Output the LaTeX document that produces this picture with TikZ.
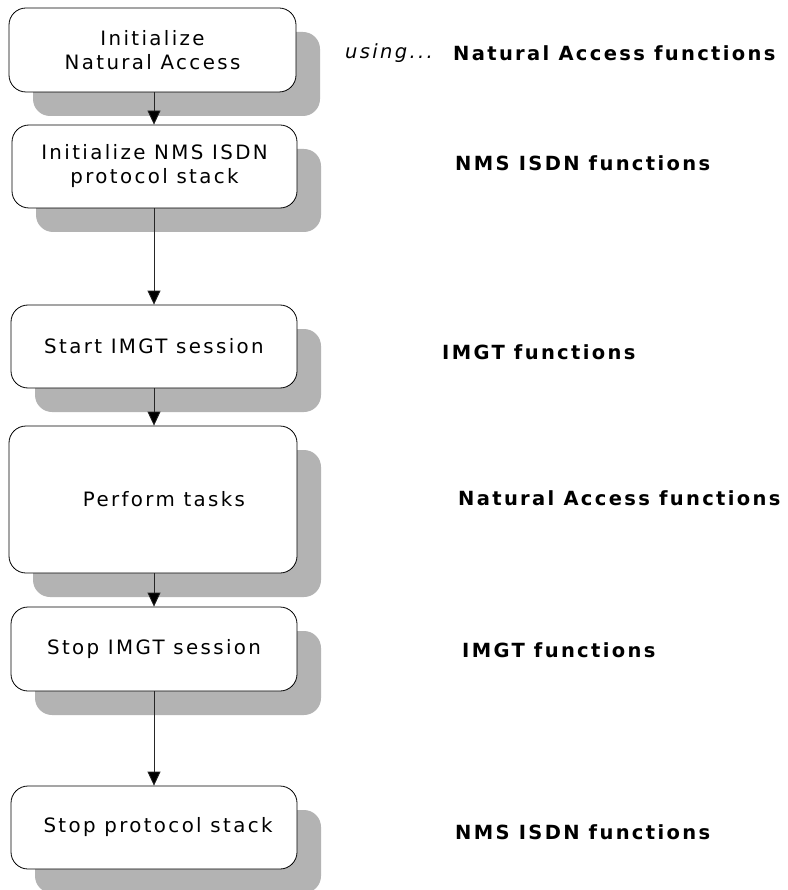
\documentclass[tikz,border=0pt]{standalone}
\usepackage{fontspec}
\setmainfont{DejaVu Sans}[LetterSpace=12]
\usetikzlibrary{arrows.meta,shadows}
\definecolor{shadowgray}{RGB}{179,179,179}
\tikzset{
  stepbox/.style={draw=black, line width=0.8pt, rounded corners=17pt, fill=white,
    align=center, inner sep=0pt, font=\fontsize{19.8}{24}\selectfont,
    drop shadow={shadow xshift=24pt, shadow yshift=-24pt, fill=shadowgray, opacity=1}},
  fnlabel/.style={anchor=west, inner sep=0pt, font=\bfseries\fontsize{19.5}{22}\selectfont},
  flow/.style={draw=black!85, line width=0.8pt, -{Triangle[length=14pt,width=13pt,fill=black]}}
}
\begin{document}
\begin{tikzpicture}[x=1pt,y=-1pt]
\useasboundingbox (0,0) rectangle (787,890);
\node[stepbox, minimum width=287pt, minimum height=84pt] (b1) at (152.5,50) {Initialize\\Natural Access};
\node[stepbox, minimum width=285pt, minimum height=83pt] (b2) at (154.5,166.5) {Initialize NMS ISDN\\protocol stack};
\node[stepbox, minimum width=286pt, minimum height=83pt] (b3) at (154,346.5) {Start IMGT session};
\node[stepbox, minimum width=288pt, minimum height=147pt] (b4) at (153,499.5) {\hspace*{22pt}Perform tasks};
\node[stepbox, minimum width=286pt, minimum height=84pt] (b5) at (154,649) {Stop IMGT session};
\node[stepbox, minimum width=286pt, minimum height=83pt] (b6) at (154,827.5) {\hspace*{8pt}Stop protocol stack};

\draw[flow] (b1.south -| 154,0) -- (b2.north -| 154,0);
\draw[flow] (b2.south -| 154,0) -- (b3.north -| 154,0);
\draw[flow] (b3.south -| 154,0) -- (b4.north -| 154,0);
\draw[flow] (b4.south -| 154,0) -- (b5.north -| 154,0);
\draw[flow] (b5.south -| 154,0) -- (b6.north -| 154,0);

\node[anchor=west, inner sep=0pt, font=\itshape\fontsize{19.5}{22}\selectfont] (using) at (345,53) {using...};
\node[fnlabel] (f1) at (453,53) {Natural Access functions};
\node[fnlabel] (f2) at (455,163) {NMS ISDN functions};
\node[fnlabel] (f3) at (442,352) {IMGT functions};
\node[fnlabel] (f4) at (458,498) {Natural Access functions};
\node[fnlabel] (f5) at (462,650) {IMGT functions};
\node[fnlabel] (f6) at (455,832) {NMS ISDN functions};
\end{tikzpicture}
\end{document}
